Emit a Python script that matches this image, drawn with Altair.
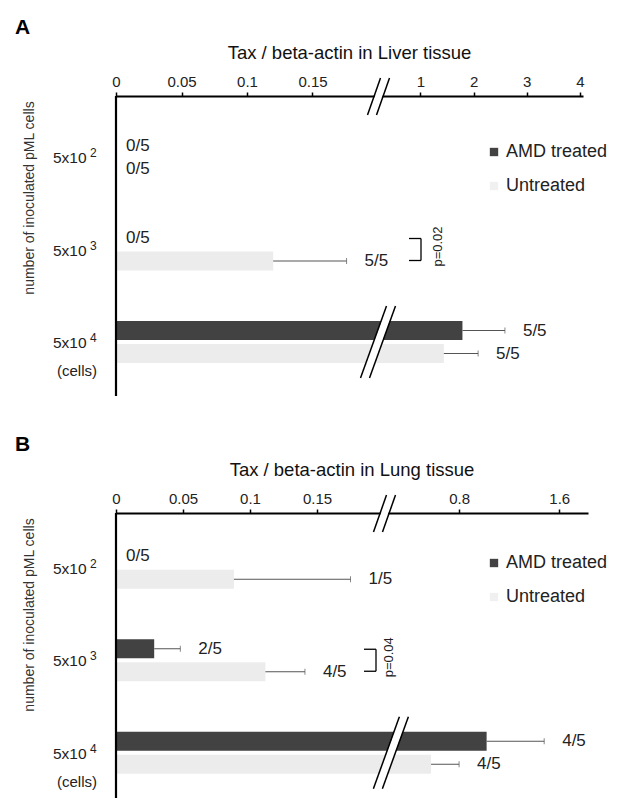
import altair as alt
import pandas as pd

# ---------------- data ----------------
rows = ["5x10^2", "5x10^3", "5x10^4"]
row_base = ["5x10", "5x10", "5x10"]
row_exp = ["2", "3", "4"]
series = ["AMD treated", "Untreated"]

# Panel A - liver
liver_amd = [0, 0, 1.79]
liver_amd_err = [0, 0, 2.59]
liver_amd_lab = ["0/5", "0/5", "5/5"]
liver_unt = [0, 0.12, 1.44]
liver_unt_err = [0, 0.176, 2.085]
liver_unt_lab = ["0/5", "5/5", "5/5"]
liver_ticks = [0, 0.05, 0.1, 0.15, 1, 2, 3, 4]
liver_domain = [0, 0.2, 4.06]

# Panel B - lung
lung_amd = [0, 0.0285, 1.02]
lung_amd_err = [0, 0.048, 1.48]
lung_amd_lab = ["0/5", "2/5", "4/5"]
lung_unt = [0.088, 0.1115, 0.576]
lung_unt_err = [0.175, 0.141, 0.80]
lung_unt_lab = ["1/5", "4/5", "4/5"]
lung_ticks = [0, 0.05, 0.1, 0.15, 0.8, 1.6]
lung_domain = [0, 0.2, 1.83]

DARK = "#424242"
LIGHT = "#ececec"
FONT = "Liberation Sans"


def panel(letter, title, amd, amd_err, amd_lab, unt, unt_err, unt_lab,
          ticks, domain, xrange_, width, height, yrange, bar_break,
          bracket_x, p_x, legend_y):
    xs = alt.Scale(domain=domain, range=xrange_, nice=False, zero=False)
    xaxis = alt.Axis(orient="top", values=ticks, format="~g", grid=False,
                     domainColor="black", domainWidth=2, tickColor="black",
                     tickWidth=1.5, tickSize=4, labelFont=FONT, labelFontSize=15,
                     labelColor="#222", labelPadding=3, title=None,
                     labelOverlap=False, labelFlush=False)
    ys = alt.Scale(domain=rows, range=yrange, paddingInner=0, paddingOuter=0)
    step = (yrange[1] - yrange[0]) / 3.0
    centers = [yrange[0] + step * (i + 0.5) for i in range(3)]

    def X(f):
        return alt.X(f, type="quantitative", scale=xs, axis=xaxis)

    def Y():
        return alt.Y("row:N", scale=ys, axis=None)

    layers = []
    for vals, errs, labs, col, off in [(amd, amd_err, amd_lab, DARK, -11.5),
                                        (unt, unt_err, unt_lab, LIGHT, 11.5)]:
        df = pd.DataFrame({"row": rows, "value": vals, "err": errs, "label": labs})
        nz = df[df["value"] > 0]
        z = df[df["value"] == 0]
        base = alt.Chart(nz)
        layers.append(base.mark_bar(height=19, yOffset=off, color=col).encode(
            x=X("value"), x2=alt.value(0), y=Y()))
        layers.append(base.mark_rule(yOffset=off, color="#555", strokeWidth=1).encode(
            x=X("value"), x2="err", y=Y()))
        layers.append(base.mark_tick(yOffset=off, color="#555", size=6, thickness=1,
                                     orient="vertical").encode(x=X("err"), y=Y()))
        layers.append(base.mark_text(yOffset=off, align="left", baseline="middle", dx=18,
                                     font=FONT, fontSize=17, color="#222").encode(
            x=X("err"), y=Y(), text="label:N"))
        if len(z):
            layers.append(alt.Chart(z).mark_text(yOffset=off, align="left", baseline="middle",
                                                 dx=10, font=FONT, fontSize=17, color="#222").encode(
                x=X("value"), y=Y(), text="label:N"))

    # break marks across bars of the last row
    c3 = centers[2]
    brk = pd.DataFrame({"b": [bar_break]})
    layers.append(alt.Chart(brk).mark_rule(color="white", strokeWidth=8, xOffset=13,
                                          x2Offset=-13).encode(
        x=X("b"), x2="b", y=alt.value(c3 - 36), y2=alt.value(c3 + 36)))
    for dxo in (-4.5, 4.5):
        layers.append(alt.Chart(brk).mark_rule(color="black", strokeWidth=1.5,
                                              xOffset=13 + dxo, x2Offset=-13 + dxo).encode(
            x=X("b"), x2="b", y=alt.value(c3 - 36), y2=alt.value(c3 + 36)))

    # axis break marks
    abrk = pd.DataFrame({"b": [0.2]})
    layers.append(alt.Chart(abrk).mark_rule(color="white", strokeWidth=7, xOffset=7,
                                           x2Offset=-6).encode(
        x=X("b"), x2="b", y=alt.value(-18), y2=alt.value(19)))
    for dxo in (-4.5, 4.5):
        layers.append(alt.Chart(abrk).mark_rule(color="black", strokeWidth=1.5,
                                               xOffset=7 + dxo, x2Offset=-6 + dxo).encode(
            x=X("b"), x2="b", y=alt.value(-18), y2=alt.value(19)))

    # vertical axis line
    layers.append(alt.Chart(abrk).mark_rule(color="black", strokeWidth=2.2).encode(
        x=alt.value(0), y=alt.value(0), y2=alt.value(height)))

    # row labels with superscripts
    lab = pd.DataFrame({"row": rows, "base": row_base, "exp": row_exp})
    layers.append(alt.Chart(lab).mark_text(align="left", baseline="middle", font=FONT,
                                          fontSize=15.5, color="#222", dy=1).encode(
        x=alt.value(-63), y=Y(), text="base:N"))
    layers.append(alt.Chart(lab).mark_text(align="left", baseline="middle", font=FONT,
                                          fontSize=12, color="#222", dy=-4).encode(
        x=alt.value(-26), y=Y(), text="exp:N"))
    cells = pd.DataFrame({"row": [rows[2]], "t": ["(cells)"]})
    layers.append(alt.Chart(cells).mark_text(align="left", baseline="middle", font=FONT,
                                            fontSize=15, color="#222", dy=29).encode(
        x=alt.value(-59), y=Y(), text="t:N"))

    # y title
    yt = pd.DataFrame({"t": ["number of inoculated pML cells"]})
    layers.append(alt.Chart(yt).mark_text(angle=270, align="center", baseline="middle",
                                         font=FONT, fontSize=14, color="#333").encode(
        x=alt.value(-86), y=alt.value(102), text="t:N"))

    # significance bracket
    c2 = centers[1]
    layers.append(alt.Chart(abrk).mark_rule(color="black", strokeWidth=1.3).encode(
        x=alt.value(bracket_x + 12), y=alt.value(c2 - 11), y2=alt.value(c2 + 11)))
    for yy in (c2 - 11, c2 + 11):
        layers.append(alt.Chart(abrk).mark_rule(color="black", strokeWidth=1.3).encode(
            x=alt.value(bracket_x), x2=alt.value(bracket_x + 12), y=alt.value(yy)))
    pt = pd.DataFrame({"t": [p_x[0]]})
    layers.append(alt.Chart(pt).mark_text(angle=270, align="center", baseline="middle",
                                         font=FONT, fontSize=13, color="#222").encode(
        x=alt.value(p_x[1]), y=alt.value(c2 - 3), text="t:N"))

    # legend
    for i, (name, col) in enumerate(zip(series, [DARK, "#f0f0f0"])):
        one = pd.DataFrame({"t": [name]})
        layers.append(alt.Chart(one).mark_square(size=70, color=col, opacity=1).encode(
            x=alt.value(378), y=alt.value(legend_y + 34 * i)))
        layers.append(alt.Chart(one).mark_text(align="left", baseline="middle", font=FONT,
                                              fontSize=18, color="#222").encode(
            x=alt.value(390), y=alt.value(legend_y + 34 * i), text="t:N"))

    # letter + title
    lt = pd.DataFrame({"t": [letter]})
    layers.append(alt.Chart(lt).mark_text(align="left", baseline="middle", font=FONT,
                                         fontSize=21, fontWeight="bold", color="black").encode(
        x=alt.value(-101), y=alt.value(-68), text="t:N"))
    tt = pd.DataFrame({"t": [title]})
    layers.append(alt.Chart(tt).mark_text(align="center", baseline="middle", font=FONT,
                                         fontSize=18.5, color="#111").encode(
        x=alt.value(width / 2), y=alt.value(-43), text="t:N"))

    return alt.layer(*layers).properties(width=width, height=height)


pa = panel("A", "Tax / beta-actin in Liver tissue", liver_amd, liver_amd_err, liver_amd_lab,
           liver_unt, liver_unt_err, liver_unt_lab, liver_ticks, liver_domain,
           [0, 262, 467], 467, 300, [14.75, 292.25], 0.2, 293, ("p=0.02", 322), 56)
pb = panel("B", "Tax / beta-actin in Lung tissue", lung_amd, lung_amd_err, lung_amd_lab,
           lung_unt, lung_unt_err, lung_unt_lab, lung_ticks, lung_domain,
           [0, 268, 472], 472, 285, [8.5, 286.0], 0.255, 248, ("p=0.04", 273), 50)

chart = alt.vconcat(pa, pb, spacing=36).properties(
    padding={"left": 7, "top": 9, "right": 0, "bottom": 0}
).configure_view(stroke=None)

chart.save("out.html", embed_options={"renderer": "svg", "actions": False})
